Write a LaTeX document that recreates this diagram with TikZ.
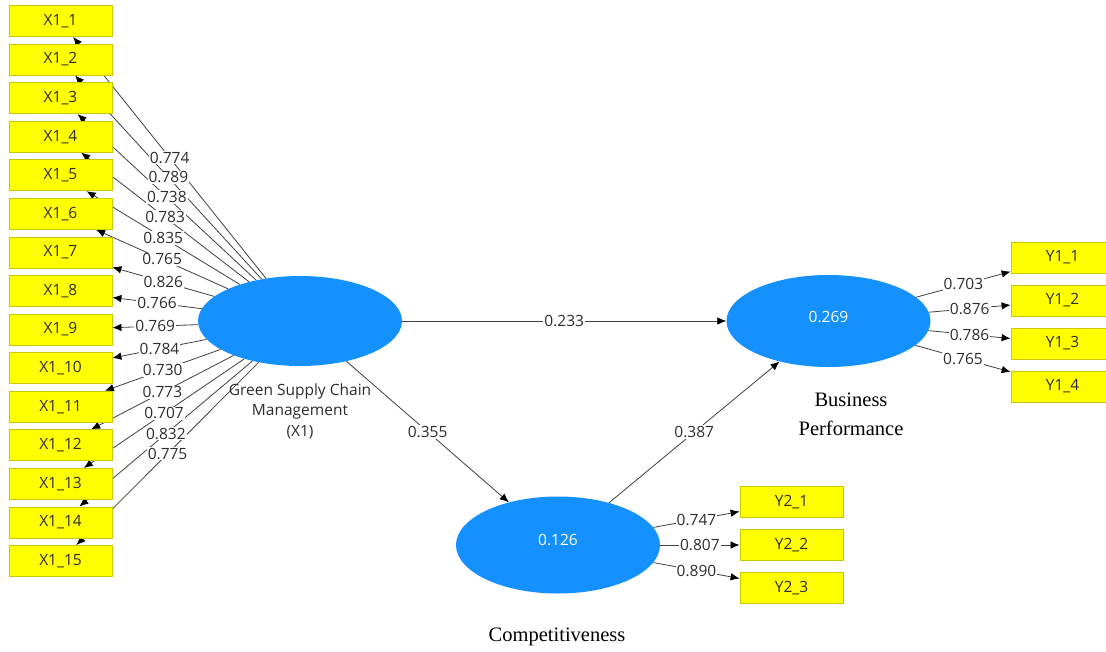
\documentclass[tikz,border=0pt]{standalone}
\usepackage{fontspec}
\setmainfont{Open Sans}
\newfontfamily\serifx{Liberation Serif}
\usetikzlibrary{shapes.geometric,arrows.meta}
\pgfdeclarelayer{bg}
\pgfsetlayers{bg,main}
\definecolor{lvblue}{RGB}{20,145,255}
\definecolor{boxfill}{RGB}{255,255,0}
\definecolor{boxline}{RGB}{200,200,0}
\definecolor{txt}{RGB}{45,45,45}
\tikzset{
  ind/.style={draw=boxline, fill=boxfill, minimum width=103pt, minimum height=31pt, inner sep=0pt, text=txt, line width=0.8pt},
  lv/.style={ellipse, fill=lvblue, inner sep=0pt, text=white, text height=11pt},
  ld/.style={draw=black!75, line width=0.8pt, -{Latex[length=9pt,width=7.5pt,black]}},
  lab/.style={fill=white, inner sep=1pt, text=txt, midway},
  serlab/.style={font=\serifx\fontsize{20.5}{29}\selectfont, align=center, text=black}
}
\begin{document}
\begin{tikzpicture}[x=1pt,y=-1pt,font=\fontsize{15.5}{18}\selectfont]
\useasboundingbox (0,0) rectangle (1106,651);
\clip (0,0) rectangle (1106,651);
% latent variables
\node[lv, minimum width=204pt, minimum height=90pt] (X) at (300,321) {};
\node[lv, minimum width=204pt, minimum height=92pt, text depth=8pt] (BP) at (828.5,321) {0.269};
\node[lv, minimum width=204pt, minimum height=97pt, text depth=10pt] (C) at (558,545) {0.126};
% indicators
\foreach \i in {1,...,15} \node[ind] (x\i) at (60.5,{21+(\i-1)*38.57}) {X1\_\i};
\foreach \i in {1,...,4} \node[ind] (ya\i) at (1062.5,{257.5+(\i-1)*43}) {Y1\_\i};
\foreach \i in {1,...,3} \node[ind] (yb\i) at (791.5,{502+(\i-1)*43}) {Y2\_\i};
% connectors
\begin{pgfonlayer}{bg}
\fill[white] (0,0) rectangle (1106,651);
\foreach \i in {1,...,15} \draw[ld] (X) -- (x\i);
\foreach \i in {1,...,4} \draw[ld] (BP) -- (ya\i);
\foreach \i in {1,...,3} \draw[ld] (C) -- (yb\i);
\draw[ld] (X) -- (BP);
\draw[ld] (X) -- (C);
\draw[ld] (C) -- (BP);
\end{pgfonlayer}
% labels
\foreach \i/\v in {1/0.774,2/0.789,3/0.738,4/0.783,5/0.835,6/0.765,7/0.826,8/0.766,9/0.769,10/0.784,11/0.730,12/0.773,13/0.707,14/0.832,15/0.775}
  \path (X) -- (x\i) node[lab] {\v};
\foreach \i/\v in {1/0.703,2/0.876,3/0.786,4/0.765}
  \path (BP) -- (ya\i) node[lab] {\v};
\foreach \i/\v in {1/0.747,2/0.807,3/0.890}
  \path (C) -- (yb\i) node[lab] {\v};
\path (X) -- (BP) node[lab] {0.233};
\path (X) -- (C) node[lab] {0.355};
\path (C) -- (BP) node[lab] {0.387};
% names
\node[text=txt, align=center, font=\fontsize{15.5}{20.5}\selectfont] (gl) at (300,411) {Green Supply Chain\\Management\\(X1)};
\node[serlab] (bl) at (851,414) {Business\\Performance};
\node[serlab] (cl) at (557,637) {Competitiveness};
\end{tikzpicture}
\end{document}
